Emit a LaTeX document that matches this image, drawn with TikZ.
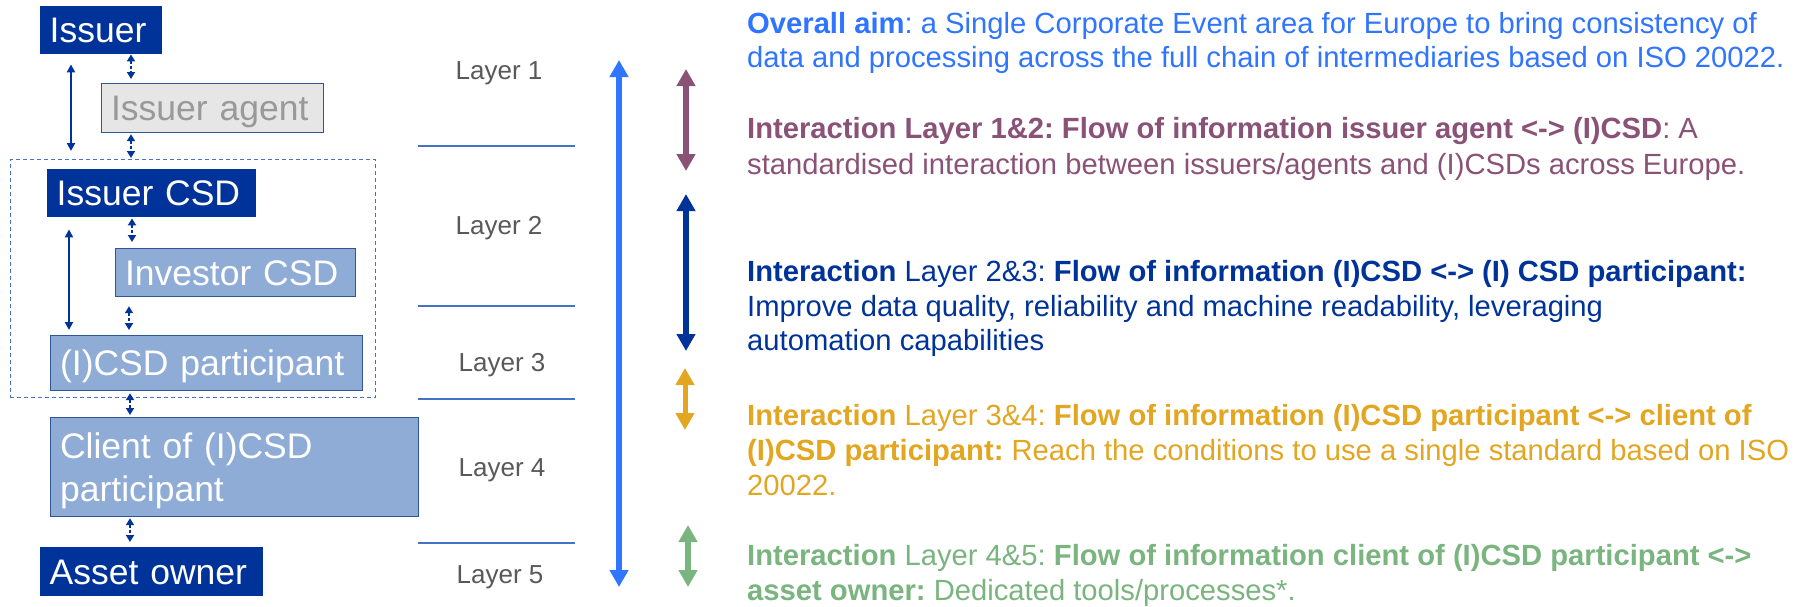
\documentclass[tikz,border=0pt]{standalone}
\usepackage{fontspec}
\setmainfont{Liberation Sans}
\usetikzlibrary{arrows.meta}
\frenchspacing

\definecolor{navy}{RGB}{0,51,153}
\definecolor{paleblue}{RGB}{143,172,214}
\definecolor{boxedge}{RGB}{47,85,151}
\definecolor{agentfill}{RGB}{231,230,230}
\definecolor{agenttext}{RGB}{153,153,153}
\definecolor{sepline}{RGB}{68,114,196}
\definecolor{layertext}{RGB}{89,89,89}
\definecolor{aimblue}{RGB}{47,117,255}
\definecolor{plum}{RGB}{139,82,120}
\definecolor{gold}{RGB}{226,166,33}
\definecolor{sage}{RGB}{122,180,126}

\tikzset{
  actor/.style={anchor=north west, inner xsep=9.5pt, inner ysep=0pt, align=left,
    font=\fontsize{35.5}{43}\selectfont, text height=25.4pt, text depth=0pt, text=white},
  darkbox/.style={actor, fill=navy},
  lightbox/.style={actor, fill=paleblue, draw=boxedge, line width=1.2pt},
  agentbox/.style={actor, fill=agentfill, draw=boxedge, line width=1.2pt, text=agenttext},
  groupbox/.style={anchor=north west, draw=sepline, line width=1.2pt, dash pattern=on 4pt off 3pt, inner sep=0pt},
  link/.style={navy, line width=1.8pt, dash pattern=on 3pt off 2pt,
    {Triangle[width=8pt,length=7pt]}-{Triangle[width=8pt,length=7pt]}},
  span/.style={navy, line width=2.2pt,
    {Triangle[width=8pt,length=8pt]}-{Triangle[width=8pt,length=8pt]}},
  layersep/.style={sepline, line width=2.8pt},
  layerlabel/.style={anchor=base, inner sep=0pt, text=layertext, font=\fontsize{26}{31}\selectfont},
  scope arrow/.style={line width=6pt,
    {Triangle[width=18pt,length=17pt]}-{Triangle[width=18pt,length=17pt]}},
  % multi-line notes are anchored on the baseline of their last line
  note/.style={anchor=base west, inner sep=0pt, align=left, font=\fontsize{29.2}{34.6}\selectfont},
}

\begin{document}
\begin{tikzpicture}[x=1pt, y=-1pt]
\useasboundingbox (0,0) rectangle (1814,606);
\fill[white] (0,0) rectangle (1814,606);

% chain of intermediaries
\node[groupbox, minimum width=365.5pt, minimum height=238pt] (group) at (9.5,159) {};
\node[darkbox, minimum height=48pt, text width=103pt] (issuer) at (40,6) {Issuer};
\node[agentbox, minimum height=49pt, text width=203pt] (agent) at (101,83) {Issuer agent};
\node[darkbox, minimum height=48pt, text width=190pt] (issuercsd) at (47,169) {Issuer CSD};
\node[lightbox, minimum height=48pt, text width=221pt] (investor) at (115,248) {Investor CSD};
\node[lightbox, minimum height=55pt, text width=293pt] (participant) at (50,335) {(I)CSD participant};
\node[lightbox, minimum height=99pt, text width=349pt, text depth=43pt] (client) at (50,417) {Client of (I)CSD\\participant};
\node[darkbox, minimum height=49pt, text width=204pt] (owner) at (40,547) {Asset owner};

% connector columns
\coordinate (cA) at (131,0);
\coordinate (cB) at (132,0);
\coordinate (cC) at (129,0);
\coordinate (cD) at (130,0);
\coordinate (cL) at (71,0);
\coordinate (cM) at (69,0);

\draw[link, shorten <=0pt, shorten >=4pt] (issuer.south -| cA) -- (agent.north -| cA);
\draw[link, shorten <=1pt, shorten >=1pt] (agent.south -| cA) -- (group.north -| cA);
\draw[link, shorten <=1pt, shorten >=6pt] (issuercsd.south -| cB) -- (investor.north -| cB);
\draw[link, shorten <=9pt, shorten >=5pt] (investor.south -| cC) -- (participant.north -| cC);
\draw[link, shorten <=2pt, shorten >=2pt] (participant.south -| cD) -- (client.north -| cD);
\draw[link, shorten <=1pt, shorten >=5pt] (client.south -| cD) -- (owner.north -| cD);
\draw[span, shorten <=10pt, shorten >=8pt] (issuer.south -| cL) -- (group.north -| cL);
\draw[span, shorten <=12pt, shorten >=5pt] (issuercsd.south -| cM) -- (participant.north -| cM);

% layers
\draw[layersep] (418,146) -- (575,146);
\draw[layersep] (418,306) -- (575,306);
\draw[layersep] (418,399) -- (575,399);
\draw[layersep] (418,543) -- (575,543);
\node[layerlabel] (l1) at (499,79) {Layer 1};
\node[layerlabel] (l2) at (499,234) {Layer 2};
\node[layerlabel] (l3) at (502,371) {Layer 3};
\node[layerlabel] (l4) at (502,476) {Layer 4};
\node[layerlabel] (l5) at (500,583) {Layer 5};

% scope arrows
\coordinate (aimtop) at (619,60);
\coordinate (aimbot) at (619,587);
\coordinate (p1) at (686,69);
\coordinate (p2) at (686,171);
\coordinate (n1) at (686,194);
\coordinate (n2) at (686,351);
\coordinate (g1) at (685,368);
\coordinate (g2) at (685,430);
\coordinate (s1) at (688,525);
\coordinate (s2) at (688,587);
\draw[scope arrow, aimblue] (aimtop) -- (aimbot);
\draw[scope arrow, plum] (p1) -- (p2);
\draw[scope arrow, navy] (n1) -- (n2);
\draw[scope arrow, gold, line width=5pt] (g1) -- (g2);
\draw[scope arrow, sage] (s1) -- (s2);

% descriptions
\node[note, text=aimblue, font=\fontsize{29.2}{34}\selectfont] (aim) at (747,67)
  {\textbf{Overall aim}: a Single Corporate Event area for Europe to bring consistency of\\
   data and processing across the full chain of intermediaries based on ISO 20022.};
\node[note, text=plum, font=\fontsize{29.2}{36}\selectfont] (i12) at (747,174)
  {\textbf{Interaction Layer 1\&2: Flow of information issuer agent <-> (I)CSD}: A\\
   standardised interaction between issuers/agents and (I)CSDs across Europe.};
\node[note, text=navy] (i23) at (747,350.7)
  {\textbf{Interaction} Layer 2\&3: \textbf{Flow of information (I)CSD <-> (I) CSD participant:}\\
   Improve data quality, reliability and machine readability, leveraging\\
   automation capabilities};
\node[note, text=gold, font=\fontsize{29.2}{35}\selectfont] (i34) at (747,495.7)
  {\textbf{Interaction} Layer 3\&4: \textbf{Flow of information (I)CSD participant <-> client of}\\
   \textbf{(I)CSD participant:} Reach the conditions to use a single standard based on ISO\\
   20022.};
\node[note, text=sage] (i45) at (747,600.5)
  {\textbf{Interaction} Layer 4\&5: \textbf{Flow of information client of (I)CSD participant <->}\\
   \textbf{asset owner:} Dedicated tools/processes*.};
\end{tikzpicture}
\end{document}
